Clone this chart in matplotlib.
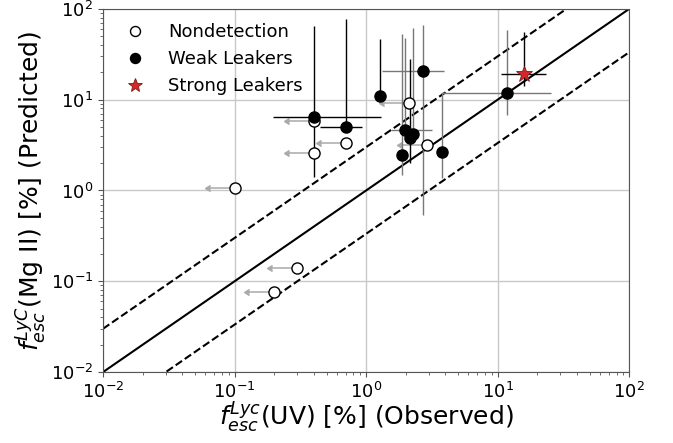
import matplotlib
matplotlib.use('Agg')
import matplotlib.pyplot as plt
import numpy as np

# nondetections (upper limits in x)
nd_x = np.array([0.4, 0.4, 0.7, 0.1, 0.3, 0.2, 2.1, 2.9])
nd_y = np.array([5.8, 2.6, 3.3, 1.07, 0.14, 0.077, 9.1, 3.2])

# weak leakers: value and error-bar bounds
wk_x   = np.array([0.4, 0.7, 2.7, 1.28, 1.97, 2.26, 2.16, 1.87, 3.77, 11.7])
wk_y   = np.array([6.4, 5.0, 20.6, 11.1, 4.68, 4.2, 3.74, 2.48, 2.66, 11.8])
wk_xlo = np.array([0.195, 0.447, 1.32, 1.28, 1.54, 2.26, 2.16, 1.87, 3.77, 3.72])
wk_xhi = np.array([1.30, 0.927, 3.94, 1.28, 3.16, 2.26, 2.16, 1.87, 3.77, 25.4])
wk_ylo = np.array([1.42, 5.0, 0.537, 11.1, 4.68, 4.2, 2.01, 1.48, 1.37, 6.8])
wk_yhi = np.array([65.5, 77.6, 66.6, 46.7, 47.5, 61.0, 27.9, 53.0, 11.9, 58.0])

# strong leaker
st_x, st_y = 15.9, 19.2
st_xlo, st_xhi = 10.6, 23.3
st_ylo, st_yhi = 14.2, 56.0

# error bar colour per weak leaker
wk_ecol = ['k', 'k', '#777777', 'k', '#777777', '#777777', 'k', '#777777', '#777777', '#777777']

fig = plt.figure(figsize=(6.73, 4.43), dpi=100)
ax = fig.add_axes([0.153, 0.160, 0.782, 0.820])
ax.set_xscale('log')
ax.set_yscale('log')

line = np.array([1e-2, 1e2])
ax.plot(line, line, 'k-', lw=1.5, zorder=2)
ax.plot(line, line * 3, 'k--', lw=1.5, zorder=2)
ax.plot(line, line / 3, 'k--', lw=1.5, zorder=2)

# arrows for the nondetections
ax.errorbar(nd_x, nd_y, xerr=nd_x * (1 - 10**-0.19), xuplims=True, fmt='none',
            ecolor='#aaaaaa', color='#aaaaaa', elinewidth=1.1, capsize=2.5,
            zorder=3)
ax.plot(nd_x, nd_y, 'o', mfc='white', mec='k', mew=1, ms=8, zorder=5,
        label='Nondetection')

for i in range(len(wk_x)):
    ax.errorbar(wk_x[i], wk_y[i],
                xerr=[[wk_x[i] - wk_xlo[i]], [wk_xhi[i] - wk_x[i]]],
                yerr=[[wk_y[i] - wk_ylo[i]], [wk_yhi[i] - wk_y[i]]],
                fmt='none', ecolor=wk_ecol[i], elinewidth=1.0, zorder=3)
ax.plot(wk_x, wk_y, 'o', color='k', ms=8, zorder=6, label='Weak Leakers')

ax.errorbar(st_x, st_y, xerr=[[st_x - st_xlo], [st_xhi - st_x]],
            yerr=[[st_y - st_ylo], [st_yhi - st_y]], fmt='none',
            ecolor='k', elinewidth=1.0, zorder=3)
ax.plot([st_x], [st_y], '*', color='#d62728', mec='#7a1a1a', mew=0.6, ms=12,
        zorder=7, label='Strong Leakers')

ax.set_xlim(1e-2, 1e2)
ax.set_ylim(1e-2, 1e2)
ax.grid(True, which='major', color='#c8c8c8', lw=1, zorder=0)
ax.set_axisbelow(True)
for s in ax.spines.values():
    s.set_color('#555555')
ax.tick_params(which='both', colors='#555555', labelcolor='k', labelsize=13)

ax.set_xlabel(r'$f_{esc}^{Lyc}$(UV) [%] (Observed)', fontsize=18, labelpad=-1)
ax.set_ylabel(r'$f_{esc}^{LyC}$(Mg II) [%] (Predicted)', fontsize=18, labelpad=1)

ax.legend(loc='upper left', frameon=False, fontsize=13, handletextpad=0.8,
          borderaxespad=0.4, markerscale=0.9)

fig.savefig('out.png', dpi=100)
